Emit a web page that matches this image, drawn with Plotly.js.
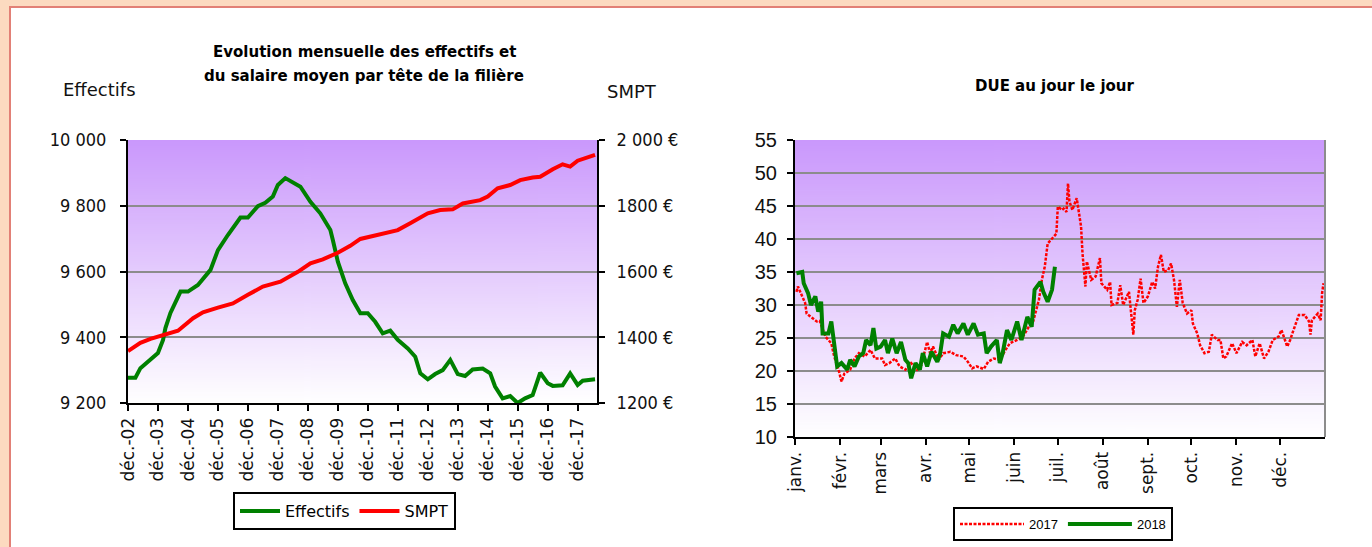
<!DOCTYPE html>
<html><head><meta charset="utf-8">
<script src="https://cdn.plot.ly/plotly-3.0.1.min.js"></script>
<style>html,body{margin:0;padding:0;background:#fff;} #chart{width:1372px;height:547px;}</style>
</head><body><div id="chart"></div>
<script>
// ---------- Left chart data (monthly) ----------
const effDates = ['2002-12','2003-03','2003-05','2003-12','2004-02','2004-03','2004-05','2004-09','2004-12','2005-04','2005-09','2005-12','2006-04','2006-09','2006-12','2007-04','2007-07','2007-10','2007-12','2008-03','2008-09','2009-01','2009-05','2009-09','2009-10','2009-12','2010-03','2010-06','2010-09','2010-12','2011-03','2011-06','2011-09','2011-12','2012-04','2012-07','2012-09','2012-12','2013-03','2013-06','2013-09','2013-12','2014-03','2014-06','2014-10','2015-01','2015-03','2015-06','2015-09','2015-12','2016-03','2016-06','2016-09','2016-12','2017-02','2017-06','2017-09','2017-12','2018-02','2018-07'];
const effValues = [9277,9277,9306,9352,9392,9428,9474,9539,9539,9559,9605,9665,9711,9764,9764,9799,9809,9828,9863,9884,9858,9812,9777,9726,9696,9630,9564,9513,9473,9473,9447,9412,9420,9392,9366,9341,9290,9272,9288,9300,9331,9288,9282,9302,9305,9290,9250,9214,9221,9200,9214,9224,9292,9260,9252,9254,9290,9255,9268,9272];
const smptDates = ['2002-12','2003-05','2003-09','2004-03','2004-08','2005-02','2005-06','2005-12','2006-06','2006-12','2007-06','2008-01','2008-08','2009-01','2009-06','2009-12','2010-05','2010-09','2011-05','2011-12','2012-05','2012-12','2013-05','2013-10','2014-02','2014-09','2014-12','2015-04','2015-09','2016-01','2016-06','2016-09','2017-02','2017-06','2017-09','2017-12','2018-07'];
const smptValues = [1358,1383,1395,1407,1420,1458,1476,1490,1503,1529,1554,1569,1599,1625,1637,1657,1678,1699,1713,1726,1747,1777,1787,1789,1807,1817,1828,1853,1863,1878,1886,1888,1911,1926,1919,1937,1955];
const effTickDates = ['2002-12-01','2003-12-01','2004-12-01','2005-12-01','2006-12-01','2007-12-01','2008-12-01','2009-12-01','2010-12-01','2011-12-01','2012-12-01','2013-12-01','2014-12-01','2015-12-01','2016-12-01','2017-12-01'];
const effTickLabels = ['déc.-02','déc.-03','déc.-04','déc.-05','déc.-06','déc.-07','déc.-08','déc.-09','déc.-10','déc.-11','déc.-12','déc.-13','déc.-14','déc.-15','déc.-16','déc.-17'];
const effAxisTicks = [9200,9400,9600,9800,10000];
const effAxisLabels = ['9 200','9 400','9 600','9 800','10 000'];
const smptAxisTicks = [1200,1400,1600,1800,2000];
const smptAxisLabels = ['1200 €','1400 €','1600 €','1800 €','2 000 €'];

// ---------- Right chart data (day of year) ----------
const days2017 = [2,3,6,8,9,12,16,18,22,24,26,28,31,33,35,39,42,45,49,53,56,61,63,66,70,73,77,81,85,88,92,94,96,100,103,108,112,117,120,123,126,131,134,138,142,146,149,154,158,162,165,169,171,173,175,179,181,182,185,186,188,189,190,192,195,198,199,201,202,205,208,211,212,216,218,219,223,225,227,231,232,234,235,237,239,241,244,247,249,251,253,255,258,260,262,264,266,268,271,274,275,278,280,283,286,288,292,294,296,298,302,305,309,312,316,318,321,324,327,330,334,336,340,342,344,348,352,355,356,357,361,363,364,365];
const due2017 = [32.0,32.8,31.3,30.3,28.7,28.2,27.5,27.6,25.2,24.7,24.2,22.2,20.2,18.4,19.6,20.2,21.9,22.7,22.2,23.2,21.9,21.9,20.9,21.2,21.9,20.7,20.2,21.2,20.2,20.9,24.4,22.7,23.7,21.7,22.7,22.9,22.4,22.2,21.4,20.4,20.7,20.3,21.4,21.9,21.7,23.2,24.2,24.7,25.2,26.7,27.5,30.8,33.8,35.8,39.3,40.3,40.8,44.9,44.4,44.6,44.1,48.4,45.7,44.4,46.2,41.9,37.8,32.8,36.6,33.8,34.3,37.1,33.3,32.3,33.5,30.0,30.3,33.0,30.0,32.0,29.7,25.5,29.2,30.8,34.0,30.3,31.3,33.5,32.5,35.8,37.6,35.0,35.3,36.3,33.8,29.7,33.8,30.3,28.7,29.2,27.2,25.7,23.9,22.7,22.9,25.5,24.7,24.7,21.9,22.2,24.2,22.7,24.4,23.9,24.7,22.2,24.2,21.9,22.9,24.7,25.2,26.2,23.7,24.7,26.0,28.5,28.5,27.5,25.5,27.7,28.7,27.7,31.8,33.3];
const days2018 = [2,6,7,10,12,15,17,19,20,24,26,28,30,33,37,39,42,45,48,50,53,55,57,60,63,65,68,71,74,77,79,81,84,87,89,92,95,99,101,103,107,110,113,117,120,124,127,131,133,136,140,142,144,147,150,154,157,161,164,166,170,172,175,178,180];
const due2018 = [34.8,35.0,33.3,31.8,30.0,31.3,29.0,30.5,25.7,25.7,27.5,24.2,20.7,21.2,20.2,21.7,20.7,22.2,22.7,24.7,23.9,26.5,23.4,23.7,24.7,22.7,24.9,22.7,24.4,21.7,21.2,18.9,21.2,20.2,22.7,20.7,22.9,21.4,22.7,25.7,25.2,27.0,25.7,27.2,25.5,27.2,25.5,25.7,22.7,23.7,24.7,21.2,22.7,26.2,24.7,27.5,24.7,28.2,26.7,32.3,33.5,32.0,30.5,32.3,35.8];
const monthStartDays = [1,32,60,91,121,152,182,213,244,274,305,335];
const monthLabels = ['janv.','févr.','mars','avr.','mai','juin','juil.','août','sept.','oct.','nov.','déc.'];

// ---------- styling ----------
const W = 1372, H = 547;
const px = v => v / W, py = v => 1 - v / H;
const LX = [px(128), px(597)], LY = [py(403), py(140)];
const RX = [px(795), px(1325)], RY = [py(437), py(140)];
const GRID = 'rgb(140,140,140)';
const PEACH = 'rgb(252,218,192)', BORDER = 'rgb(226,128,118)';

function gradientURL() {
  const c = document.createElement('canvas'); c.width = 4; c.height = 256;
  const g = c.getContext('2d');
  const gr = g.createLinearGradient(0, 0, 0, 256);
  gr.addColorStop(0, 'rgb(202,152,252)');
  gr.addColorStop(1, 'rgb(255,255,255)');
  g.fillStyle = gr; g.fillRect(0, 0, 4, 256);
  return c.toDataURL();
}
const grad = gradientURL();

const traces = [
  {x: effDates, y: effValues, name: 'Effectifs', type: 'scatter', mode: 'lines', xaxis: 'x', yaxis: 'y',
   line: {color: 'rgb(0,128,0)', width: 4}, legend: 'legend'},
  {x: smptDates, y: smptValues, name: 'SMPT', type: 'scatter', mode: 'lines', xaxis: 'x', yaxis: 'y2',
   line: {color: 'rgb(255,0,0)', width: 4}, legend: 'legend'},
  {x: days2017, y: due2017, name: '2017', type: 'scatter', mode: 'lines', xaxis: 'x2', yaxis: 'y3',
   line: {color: 'rgb(255,0,0)', width: 2.5, dash: '3px,1.5px'}, legend: 'legend2'},
  {x: days2018, y: due2018, name: '2018', type: 'scatter', mode: 'lines', xaxis: 'x2', yaxis: 'y3',
   line: {color: 'rgb(0,128,0)', width: 4}, legend: 'legend2'}
];

const axisCommon = {showline: true, linecolor: '#000', linewidth: 2, ticks: 'outside', ticklen: 6, tickwidth: 2,
  tickcolor: '#000', zeroline: false, fixedrange: true};

const layout = {
  width: W, height: H, autosize: false,
  margin: {l: 0, r: 0, t: 0, b: 0, pad: 0},
  paper_bgcolor: '#fff', plot_bgcolor: 'rgba(0,0,0,0)',
  showlegend: true,
  xaxis: Object.assign({}, axisCommon, {domain: LX, anchor: 'y', type: 'date', range: ['2002-12-01', '2018-07-25'],
    tickmode: 'array', tickvals: effTickDates, ticktext: effTickLabels, tickangle: -90, showgrid: false,
    tickfont: {family: 'DejaVu Sans', size: 17, color: '#111'}}),
  yaxis: Object.assign({}, axisCommon, {domain: LY, anchor: 'x', range: [9200, 10000], tickmode: 'array',
    tickvals: effAxisTicks, ticktext: effAxisLabels, showgrid: true, gridcolor: GRID, gridwidth: 2,
    ticklabelstandoff: 10, tickfont: {family: 'DejaVu Sans Condensed', size: 18, color: '#111'}}),
  yaxis2: Object.assign({}, axisCommon, {overlaying: 'y', side: 'right', anchor: 'x', range: [1200, 2000],
    tickmode: 'array', tickvals: smptAxisTicks, ticktext: smptAxisLabels, showgrid: false,
    ticklabelstandoff: 8, tickfont: {family: 'DejaVu Sans Condensed', size: 18, color: '#111'}}),
  xaxis2: Object.assign({}, axisCommon, {domain: RX, anchor: 'y3', range: [1, 366], tickmode: 'array',
    tickvals: monthStartDays, ticktext: monthLabels, tickangle: -90, showgrid: false,
    tickfont: {family: 'DejaVu Sans', size: 17, color: '#111'}}),
  yaxis3: Object.assign({}, axisCommon, {domain: RY, anchor: 'x2', range: [10, 55], tick0: 10, dtick: 5,
    showgrid: true, gridcolor: GRID, gridwidth: 2, ticklabelstandoff: 6,
    tickfont: {family: 'Liberation Sans', size: 20, color: '#111'}}),
  legend: {x: px(233), y: py(492), xanchor: 'left', yanchor: 'top', orientation: 'h', bgcolor: '#fff',
    bordercolor: '#000', borderwidth: 2, font: {family: 'DejaVu Sans', size: 16, color: '#000'},
    itemwidth: 40, tracegroupgap: 0},
  legend2: {x: px(953), y: py(507), xanchor: 'left', yanchor: 'top', orientation: 'h', bgcolor: '#fff',
    bordercolor: '#000', borderwidth: 2, font: {family: 'Liberation Sans', size: 13, color: '#000'},
    itemwidth: 64, tracegroupgap: 0},
  images: [
    {source: grad, xref: 'paper', yref: 'paper', x: LX[0], y: LY[1], sizex: LX[1] - LX[0], sizey: LY[1] - LY[0],
     sizing: 'stretch', xanchor: 'left', yanchor: 'top', layer: 'below'},
    {source: grad, xref: 'paper', yref: 'paper', x: RX[0], y: RY[1], sizex: RX[1] - RX[0], sizey: RY[1] - RY[0],
     sizing: 'stretch', xanchor: 'left', yanchor: 'top', layer: 'below'}
  ],
  shapes: [
    {type: 'rect', xref: 'paper', yref: 'paper', x0: 0, x1: 1, y0: py(6), y1: 1, fillcolor: PEACH, line: {width: 0}, layer: 'below'},
    {type: 'rect', xref: 'paper', yref: 'paper', x0: 0, x1: px(9), y0: 0, y1: 1, fillcolor: PEACH, line: {width: 0}, layer: 'below'},
    {type: 'line', xref: 'paper', yref: 'paper', x0: px(9), x1: 1, y0: py(7), y1: py(7), line: {color: BORDER, width: 2}},
    {type: 'line', xref: 'paper', yref: 'paper', x0: px(10), x1: px(10), y0: 0, y1: py(7), line: {color: BORDER, width: 2}},
    {type: 'line', xref: 'paper', yref: 'paper', x0: RX[1], x1: RX[1], y0: RY[0], y1: RY[1], line: {color: GRID, width: 2}}
  ],
  annotations: [
    {text: '<b>Evolution mensuelle des effectifs et</b>', xref: 'paper', yref: 'paper', x: px(364), y: py(52),
     xanchor: 'center', yanchor: 'middle', showarrow: false, font: {family: 'DejaVu Sans', size: 15, color: '#000'}},
    {text: '<b>du salaire moyen par tête de la filière</b>', xref: 'paper', yref: 'paper', x: px(364), y: py(76),
     xanchor: 'center', yanchor: 'middle', showarrow: false, font: {family: 'DejaVu Sans', size: 15, color: '#000'}},
    {text: 'Effectifs', xref: 'paper', yref: 'paper', x: px(61), y: py(89), xanchor: 'left', yanchor: 'middle',
     showarrow: false, font: {family: 'DejaVu Sans', size: 18, color: '#111'}},
    {text: 'SMPT', xref: 'paper', yref: 'paper', x: px(605), y: py(91), xanchor: 'left', yanchor: 'middle',
     showarrow: false, font: {family: 'DejaVu Sans', size: 18, color: '#111'}},
    {text: '<b>DUE au jour le jour</b>', xref: 'paper', yref: 'paper', x: px(1055), y: py(86),
     xanchor: 'center', yanchor: 'middle', showarrow: false, font: {family: 'DejaVu Sans', size: 15, color: '#000'}}
  ]
};

Plotly.newPlot('chart', traces, layout, {displayModeBar: false, staticPlot: true});
</script>
</body></html>
